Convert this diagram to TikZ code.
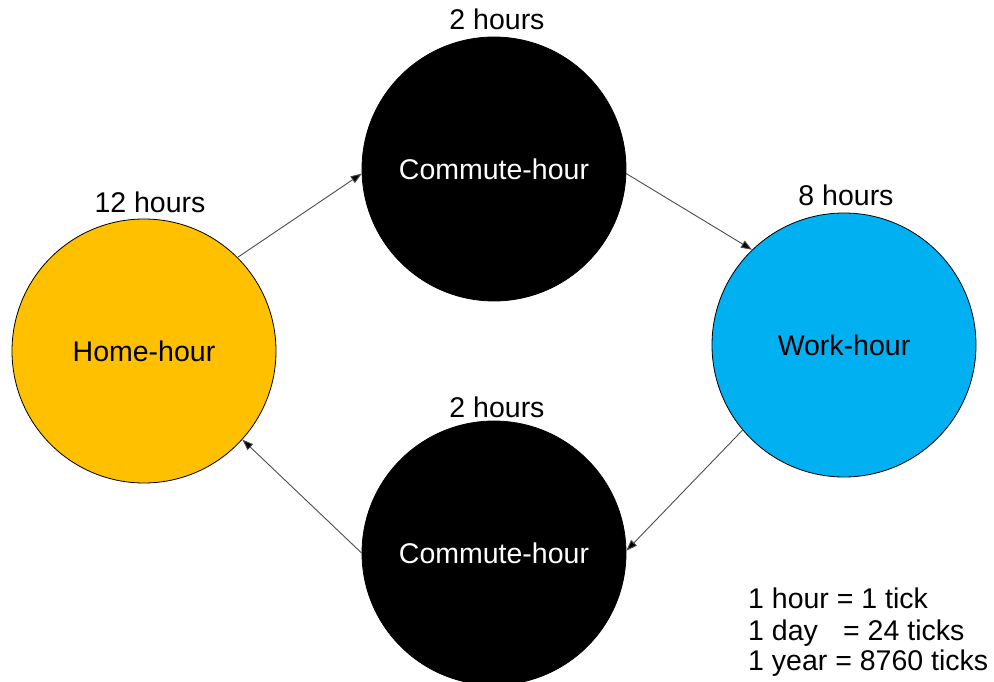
\documentclass[tikz,border=0pt]{standalone}
\usepackage{fontspec}
\setmainfont{Liberation Sans}
\usetikzlibrary{arrows.meta}
\definecolor{homeyellow}{HTML}{FFC000}
\definecolor{workblue}{HTML}{00B0F0}
\tikzset{
  x=1pt, y=-1pt,
  state/.style={circle, minimum size=264pt, inner sep=0pt, draw=black, line width=0.8pt,
    font=\fontsize{28.5}{33}\selectfont},
  commute/.style={state, fill=black, text=white},
  lbl/.style={anchor=base, font=\fontsize{28.5}{33}\selectfont, inner sep=0pt},
  legend/.style={anchor=base west, font=\fontsize{28.5}{33}\selectfont, inner sep=0pt},
  conn/.style={draw=black!70, line width=0.9pt, -{Triangle[length=11pt,width=8pt,fill=black]}},
}
\begin{document}
\begin{tikzpicture}
\useasboundingbox (0,0) rectangle (994,682);
\clip (0,0) rectangle (994,682);
\node[state, fill=homeyellow] (home) at (144,351) {Home-hour};
\node[commute] (ctop) at (494,169) {Commute-hour};
\node[state, fill=workblue] (work) at (844,345) {Work-hour};
\node[commute] (cbot) at (494,553) {Commute-hour};
\node[lbl] (lhome) at (150,213) {12 hours};
\node[lbl] (ltop) at (497,30) {2 hours};
\node[lbl] (lwork) at (846,205) {8 hours};
\node[lbl] (lbot) at (497,417) {2 hours};
\draw[conn] (home.45) -- (ctop.182);
\draw[conn] (ctop.-2) -- (work.134);
\draw[conn] (work.220) -- (cbot.1);
\draw[conn] (cbot.180) -- (home.-42);
\node[legend] (leg1) at (748,608) {1 hour = 1 tick};
\node[legend] (leg2) at (748,640) {\makebox[95pt][l]{1 day}= 24 ticks};
\node[legend] (leg3) at (748,670) {1 year = 8760 ticks};
\end{tikzpicture}
\end{document}
